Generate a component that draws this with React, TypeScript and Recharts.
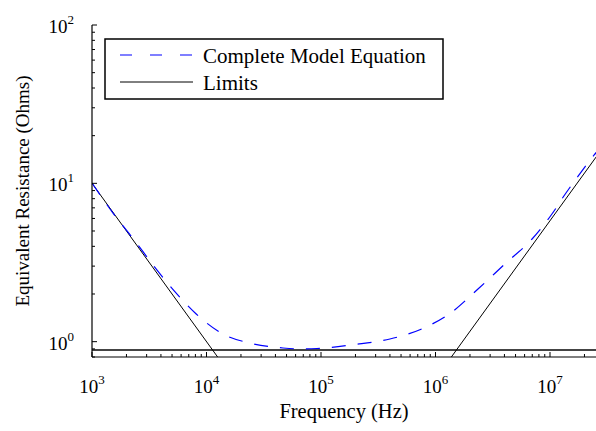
import { LineChart, Line, XAxis, YAxis } from "recharts"

// Complete model curve
const MODEL_FREQ = [1000, 1560, 2330, 3410, 5200, 8090, 13400, 24500, 46600, 65000, 92000, 198000, 400000, 730000, 1360000, 2350000, 4050000, 6970000, 10400000, 13500000, 17600000, 24300000, 26000000]
const MODEL_R = [10.05, 6.35, 4.4, 3.05, 2.1, 1.5, 1.135, 0.975, 0.912, 0.9, 0.905, 0.96, 1.04, 1.19, 1.52, 2.15, 3.1, 4.45, 6.4, 8.5, 11.1, 15.1, 16.0]

// Asymptotic limits
const LOW_LIMIT_FREQ = [1000, 13000]
const LOW_LIMIT_R = [10, 0.77]
const FLOOR_FREQ = [1000, 26000000]
const FLOOR_R = [0.886, 0.886]
const HIGH_LIMIT_FREQ = [1300000, 30000000]
const HIGH_LIMIT_R = [0.756, 17.4]

// Axis ticks
const X_EXPONENTS = [3, 4, 5, 6, 7]
const Y_EXPONENTS = [-1, 0, 1, 2]
const MINOR_STEPS = [1, 2, 3, 4, 5, 6, 7, 8, 9]

const X_DOMAIN: [number, number] = [1e3, 2.522e7]
const Y_DOMAIN: [number, number] = [0.8, 100]

const toRows = (f: number[], r: number[]) => f.map((v, i) => ({ f: v, r: r[i] }))

const buildTicks = (exps: number[], domain: [number, number]) =>
  exps
    .flatMap((e) => MINOR_STEPS.map((m) => m * Math.pow(10, e)))
    .filter((v) => v >= domain[0] * 0.999 && v <= domain[1] * 1.001)

const isMajor = (v: number) => Math.abs(Math.log10(v) - Math.round(Math.log10(v))) < 1e-6

const FONT = "'Liberation Serif', 'DejaVu Serif', serif"
const textStyle = { fontFamily: FONT }

function BottomTick(props: any) {
  const { x, y, payload } = props
  const v = payload.value
  const major = isMajor(v)
  return (
    <g>
      <line x1={x} x2={x} y1={y} y2={y - (major ? 5 : 3)} stroke="#000" />
      {major && (
        <text x={x} y={y + 36} textAnchor="middle" style={textStyle} fontSize={19} fill="#000">
          10<tspan dy={-9} fontSize={13}>{Math.round(Math.log10(v))}</tspan>
        </text>
      )}
    </g>
  )
}

function TopTick(props: any) {
  const { x, y, payload } = props
  const major = isMajor(payload.value)
  return <line x1={x} x2={x} y1={y} y2={y + (major ? 5 : 3)} stroke="#000" />
}

function LeftTick(props: any) {
  const { x, y, payload } = props
  const v = payload.value
  const major = isMajor(v)
  return (
    <g>
      <line x1={x} x2={x + (major ? 5 : 3)} y1={y} y2={y} stroke="#000" />
      {major && (
        <text x={x - 18} y={y + 8} textAnchor="end" style={textStyle} fontSize={19} fill="#000">
          10<tspan dy={-9} fontSize={13}>{Math.round(Math.log10(v))}</tspan>
        </text>
      )}
    </g>
  )
}

function LegendBox() {
  return (
    <svg
      width={596}
      height={431}
      style={{ position: "absolute", left: 0, top: 0, pointerEvents: "none" }}
    >
      <rect x={105} y={39} width={338} height={60} fill="#fff" stroke="#000" strokeWidth={1.5} />
      <line x1={120} x2={193} y1={55} y2={55} stroke="#0000ff" strokeWidth={1.2} strokeDasharray="12 18" />
      <text x={203} y={63} style={textStyle} fontSize={21} fill="#000">Complete Model Equation</text>
      <line x1={120} x2={193} y1={82} y2={82} stroke="#000" strokeWidth={1} />
      <text x={203} y={90} style={textStyle} fontSize={21} fill="#000">Limits</text>
    </svg>
  )
}

export default function App() {
  const xTicks = buildTicks(X_EXPONENTS, X_DOMAIN)
  const yTicks = buildTicks(Y_EXPONENTS, Y_DOMAIN)

  return (
    <div style={{ position: "absolute", left: 0, top: 0, width: 596, height: 431, overflow: "hidden", background: "#fff", fontFamily: FONT }}>
      <LineChart width={596} height={431} margin={{ top: 25, right: 0, bottom: 0, left: 0 }} style={{ fontFamily: FONT }}>
        <XAxis
          dataKey="f"
          type="number"
          scale="log"
          domain={X_DOMAIN}
          allowDataOverflow
          ticks={xTicks}
          interval={0}
          tick={<BottomTick />}
          tickLine={false}
          tickSize={0}
          tickMargin={0}
          height={74}
          axisLine={{ stroke: "#000", strokeWidth: 1.2 }}
          label={{ value: "Frequency (Hz)", position: "center", dy: 17, style: textStyle, fontSize: 20.5, fill: "#000" }}
        />
        <XAxis
          xAxisId="top"
          orientation="top"
          dataKey="f"
          type="number"
          scale="log"
          domain={X_DOMAIN}
          allowDataOverflow
          ticks={xTicks}
          interval={0}
          tick={<TopTick />}
          tickLine={false}
          tickSize={0}
          tickMargin={0}
          height={0}
          axisLine={{ stroke: "#000", strokeWidth: 1.2 }}
        />
        <YAxis
          dataKey="r"
          type="number"
          scale="log"
          domain={Y_DOMAIN}
          allowDataOverflow
          ticks={yTicks}
          interval={0}
          tick={<LeftTick />}
          tickLine={false}
          tickSize={0}
          tickMargin={0}
          width={92}
          axisLine={{ stroke: "#000", strokeWidth: 1.2 }}
          label={{ value: "Equivalent Resistance (Ohms)", angle: -90, position: "center", dx: -24, style: textStyle, fontSize: 19, fill: "#000" }}
        />
        <Line data={toRows(FLOOR_FREQ, FLOOR_R)} dataKey="r" stroke="#444" strokeWidth={2} dot={false} isAnimationActive={false} />
        <Line data={toRows(LOW_LIMIT_FREQ, LOW_LIMIT_R)} dataKey="r" stroke="#000" strokeWidth={1} dot={false} isAnimationActive={false} />
        <Line data={toRows(HIGH_LIMIT_FREQ, HIGH_LIMIT_R)} dataKey="r" stroke="#000" strokeWidth={1} dot={false} isAnimationActive={false} />
        <Line
          data={toRows(MODEL_FREQ, MODEL_R)}
          dataKey="r"
          type="monotone"
          stroke="#0000ff"
          strokeWidth={1.2}
          strokeDasharray="14 12"
          dot={false}
          isAnimationActive={false}
        />
      </LineChart>
      <LegendBox />
    </div>
  )
}
